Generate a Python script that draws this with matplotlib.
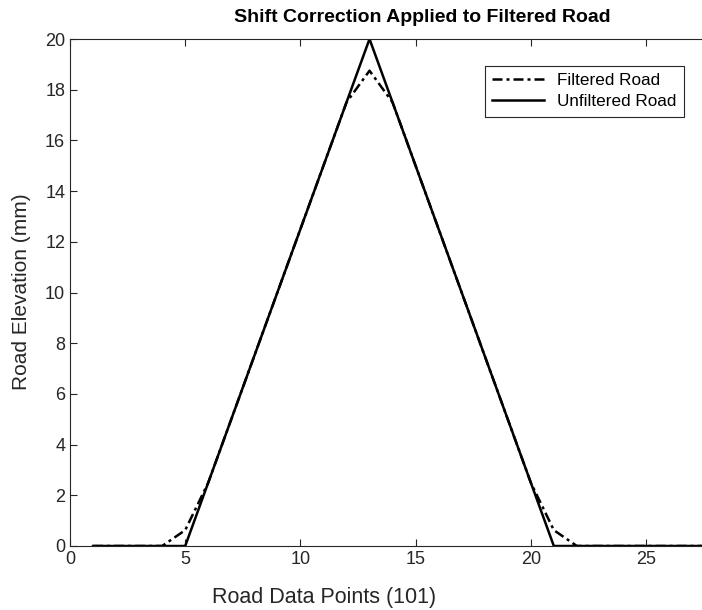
import matplotlib.pyplot as plt

plt.rcParams['font.family'] = ['Liberation Sans', 'DejaVu Sans']

x = list(range(1, 31))
unfiltered = [0, 0, 0, 0, 0, 2.5, 5, 7.5, 10, 12.5, 15, 17.5, 20, 17.5, 15,
              12.5, 10, 7.5, 5, 2.5, 0, 0, 0, 0, 0, 0, 0, 0, 0, 0]
filtered = [0, 0, 0, 0, 0.625, 2.5, 5, 7.5, 10, 12.5, 15, 17.5, 18.75, 17.5, 15,
            12.5, 10, 7.5, 5, 2.5, 0.625, 0, 0, 0, 0, 0, 0, 0, 0, 0]

W, H = 702, 610
fig = plt.figure(figsize=(W / 100, H / 100), dpi=100)
# axes runs past the right edge of the picture, like the cropped original
ax = fig.add_axes([70 / W, 64 / H, 30 * 23.04 / W, 507 / H])

ax.plot(x, filtered, color='black', linestyle=(0, (4, 1.6, 1.2, 1.6)), linewidth=1.8,
        label='Filtered Road')
ax.plot(x, unfiltered, color='black', linestyle='-', linewidth=1.8, label='Unfiltered Road')

ax.set_xlim(0, 30)
ax.set_ylim(0, 20)
ax.set_xticks([0, 5, 10, 15, 20, 25])
ax.set_yticks(range(0, 21, 2))
ax.tick_params(direction='in', length=5, width=0.8, labelsize=13,
               top=True, right=True, colors='#262626', labelcolor='#262626')
for s in ax.spines.values():
    s.set_linewidth(0.8)
    s.set_color('#262626')

fig.text(422 / W, 1 - 18 / H, 'Shift Correction Applied to Filtered Road',
         ha='center', va='center', fontsize=14, fontweight='bold')
fig.text(324 / W, 1 - 597 / H, 'Road Data Points (101)',
         ha='center', va='center', fontsize=15.5, color='#262626')
fig.text(22 / W, 1 - 292 / H, 'Road Elevation (mm)', rotation=90,
         ha='center', va='center', fontsize=15, color='#262626')

leg = ax.legend(loc='upper right', bbox_to_anchor=(693 / W, 1 - 57 / H),
                bbox_transform=fig.transFigure, fontsize=12.3, fancybox=False,
                framealpha=1, edgecolor='#262626', handlelength=3.0,
                borderpad=0.45, labelspacing=0.35)
leg.get_frame().set_linewidth(0.8)

plt.savefig('out.png', dpi=100)
